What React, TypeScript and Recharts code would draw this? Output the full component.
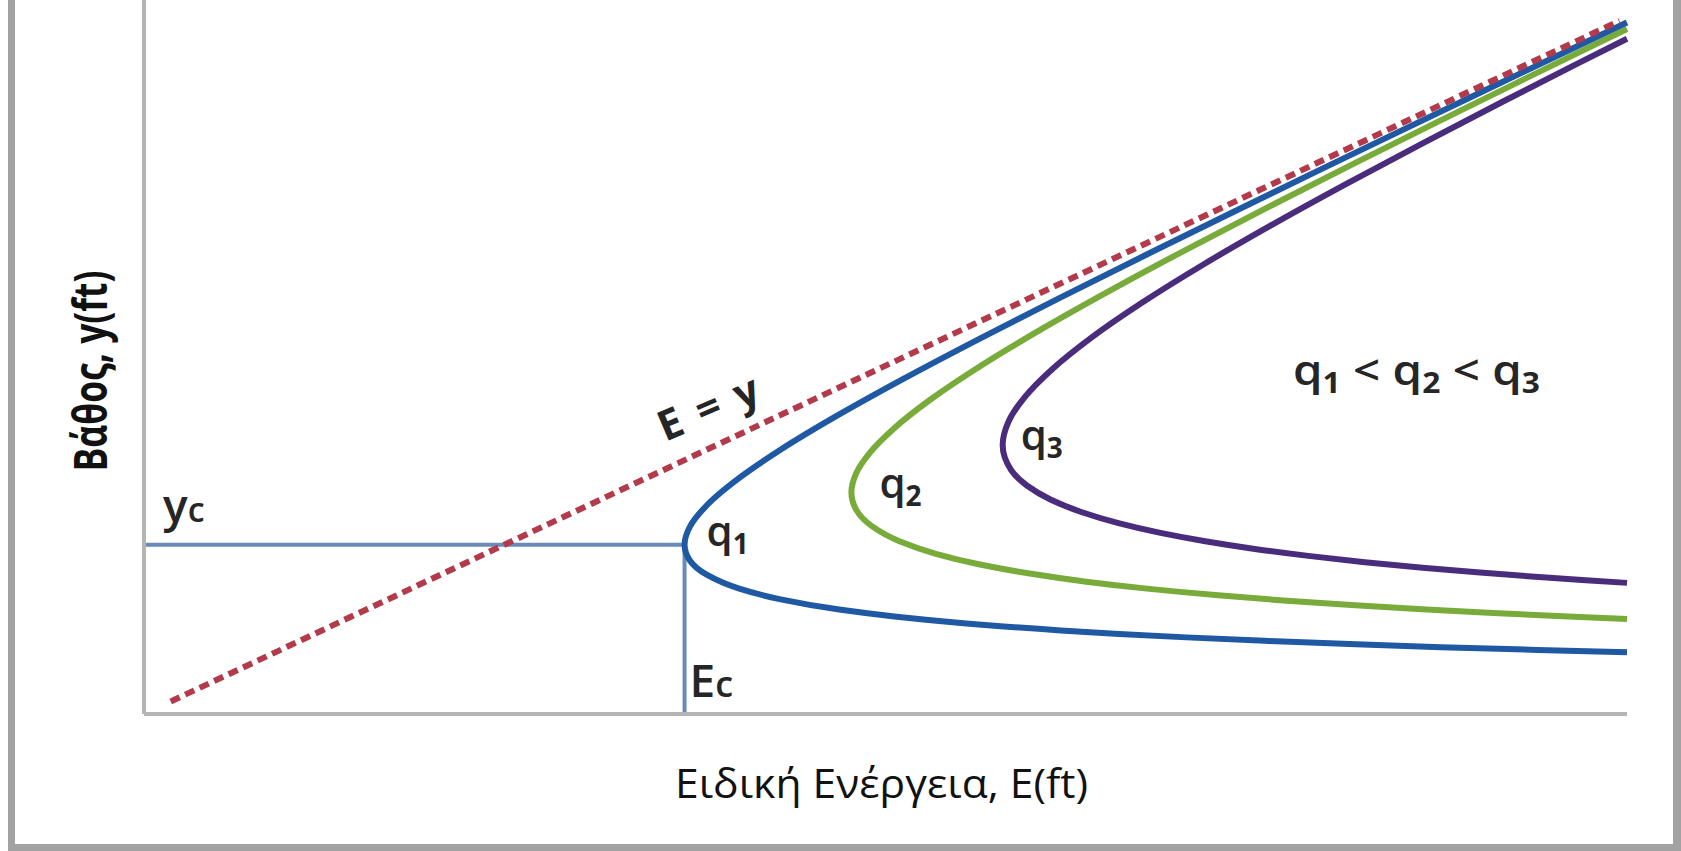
import React from 'react';
import { LineChart, Line, XAxis, YAxis, ReferenceDot } from 'recharts';

// Specific-energy diagram: depth y (ft) against specific energy E (ft)
const E_DOMAIN: [number, number] = [0, 10];
const Y_DOMAIN: [number, number] = [0, 10.25];

// Critical point of the q1 curve
const YC = 2.43;
const EC = 3.645;

// E = y reference line
const equalLine = [
  { E: 0.18, y: 0.18 },
  { E: 9.95, y: 9.95 },
];

// Critical-depth / critical-energy guide lines
const criticalGuide = [
  { E: 0, y: YC },
  { E: EC, y: YC },
  { E: EC, y: 0 },
];

// q1: lower (supercritical) branch to upper (subcritical) branch
const q1Curve = [
  { E: 10.0, y: 0.8872 }, { E: 9.396, y: 0.92 }, { E: 8.744, y: 0.96 },
  { E: 8.174, y: 1.0 }, { E: 7.557, y: 1.05 }, { E: 7.029, y: 1.1 },
  { E: 6.575, y: 1.15 }, { E: 6.182, y: 1.2 }, { E: 5.545, y: 1.3 },
  { E: 5.06, y: 1.4 }, { E: 4.688, y: 1.5 }, { E: 4.285, y: 1.65 },
  { E: 4.014, y: 1.8 }, { E: 3.794, y: 2.0 }, { E: 3.682, y: 2.2 },
  { E: 3.645, y: 2.43 }, { E: 3.684, y: 2.7 }, { E: 3.797, y: 3.0 },
  { E: 4.021, y: 3.4 }, { E: 4.297, y: 3.8 }, { E: 4.688, y: 4.3 },
  { E: 5.111, y: 4.8 }, { E: 5.646, y: 5.4 }, { E: 6.199, y: 6.0 },
  { E: 6.765, y: 6.6 }, { E: 7.338, y: 7.2 }, { E: 7.918, y: 7.8 },
  { E: 8.502, y: 8.4 }, { E: 9.089, y: 9.0 }, { E: 9.58, y: 9.5 },
  { E: 10.0, y: 9.927 },
];

const q2Curve = [
  { E: 10.0, y: 1.3647 }, { E: 9.604, y: 1.4 }, { E: 9.098, y: 1.45 },
  { E: 8.647, y: 1.5 }, { E: 8.167, y: 1.56 }, { E: 7.682, y: 1.63 },
  { E: 7.264, y: 1.7 }, { E: 6.763, y: 1.8 }, { E: 6.354, y: 1.9 },
  { E: 5.961, y: 2.02 }, { E: 5.629, y: 2.15 }, { E: 5.34, y: 2.3 },
  { E: 5.094, y: 2.48 }, { E: 4.906, y: 2.7 }, { E: 4.803, y: 2.93 },
  { E: 4.77, y: 3.18 }, { E: 4.801, y: 3.45 }, { E: 4.894, y: 3.75 },
  { E: 5.057, y: 4.1 }, { E: 5.294, y: 4.5 }, { E: 5.643, y: 5.0 },
  { E: 6.072, y: 5.55 }, { E: 6.532, y: 6.1 }, { E: 7.058, y: 6.7 },
  { E: 7.602, y: 7.3 }, { E: 8.158, y: 7.9 }, { E: 8.723, y: 8.5 },
  { E: 9.294, y: 9.1 }, { E: 9.774, y: 9.6 }, { E: 10.0, y: 9.834 },
];

const q3Curve = [
  { E: 10.0, y: 1.8823 }, { E: 9.722, y: 1.92 }, { E: 9.381, y: 1.97 },
  { E: 9.009, y: 2.03 }, { E: 8.622, y: 2.1 }, { E: 8.232, y: 2.18 },
  { E: 7.851, y: 2.27 }, { E: 7.49, y: 2.37 }, { E: 7.156, y: 2.48 },
  { E: 6.854, y: 2.6 }, { E: 6.571, y: 2.74 }, { E: 6.32, y: 2.9 },
  { E: 6.112, y: 3.08 }, { E: 5.953, y: 3.28 }, { E: 5.848, y: 3.5 },
  { E: 5.79, y: 3.86 }, { E: 5.83, y: 4.2 }, { E: 5.939, y: 4.55 },
  { E: 6.124, y: 4.95 }, { E: 6.386, y: 5.4 }, { E: 6.726, y: 5.9 },
  { E: 7.141, y: 6.45 }, { E: 7.587, y: 7.0 }, { E: 8.098, y: 7.6 },
  { E: 8.628, y: 8.2 }, { E: 9.171, y: 8.8 }, { E: 9.679, y: 9.35 },
  { E: 10.0, y: 9.694 },
];

// Text
const X_TITLE = 'Ειδική Ενέργεια, E(ft)';
const Y_TITLE = 'Βάθος, y(ft)';
const EQUAL_TEXT = 'E = y';
const CURVE_NAMES = ['1', '2', '3'];

// Label anchors (data coordinates)
const q1Anchor = { E: 3.645, y: 2.43 };
const q2Anchor = { E: 4.77, y: 3.18 };
const q3Anchor = { E: 5.79, y: 3.86 };
const orderAnchor = { E: 8.58, y: 4.72 };
const equalAnchor = { E: 3.8, y: 4.42 };

const FONT = "'Open Sans', 'Noto Sans', sans-serif";
const INK = '#262626';

const center = (props: any) => {
  const vb = props.viewBox || {};
  return { cx: vb.x + (vb.width || 0) / 2, cy: vb.y + (vb.height || 0) / 2 };
};

const qText = (sub: string, dx: number, dy: number) => (props: any) => {
  const { cx, cy } = center(props);
  return (
    <text x={cx + dx} y={cy + dy} fontFamily={FONT} fontWeight={600} fill={INK}>
      <tspan fontSize={42}>q</tspan>
      <tspan fontSize={28} fontWeight={700} dy={8}>{sub}</tspan>
    </text>
  );
};

const orderText = (props: any) => {
  const { cx, cy } = center(props);
  return (
    <text
      x={cx}
      y={cy}
      textAnchor="middle"
      fontFamily={FONT}
      fontWeight={600}
      fill={INK}
      textLength={247}
      lengthAdjust="spacingAndGlyphs"
    >
      <tspan fontSize={42}>q</tspan>
      <tspan fontSize={28} fontWeight={700} dy={8}>{CURVE_NAMES[0]}</tspan>
      <tspan fontSize={42} dy={-8}>{' < q'}</tspan>
      <tspan fontSize={28} fontWeight={700} dy={8}>{CURVE_NAMES[1]}</tspan>
      <tspan fontSize={42} dy={-8}>{' < q'}</tspan>
      <tspan fontSize={28} fontWeight={700} dy={8}>{CURVE_NAMES[2]}</tspan>
    </text>
  );
};

const equalText = (props: any) => {
  const { cx, cy } = center(props);
  return (
    <text
      x={cx}
      y={cy}
      textAnchor="middle"
      dominantBaseline="central"
      fontFamily={FONT}
      fontWeight={700}
      fontSize={42}
      fill={INK}
      textLength={106}
      lengthAdjust="spacing"
      transform={`rotate(-23 ${cx} ${cy})`}
    >
      {EQUAL_TEXT}
    </text>
  );
};

const ycText = (props: any) => {
  const { cx, cy } = center(props);
  return (
    <text x={cx + 19} y={cy - 23} fontFamily={FONT} fontWeight={600} fill={INK}>
      <tspan fontSize={46}>y</tspan>
      <tspan fontSize={34}>c</tspan>
    </text>
  );
};

const ecText = (props: any) => {
  const { cx, cy } = center(props);
  return (
    <text x={cx + 5} y={cy - 17} fontFamily={FONT} fontWeight={600} fill={INK}>
      <tspan fontSize={46}>E</tspan>
      <tspan fontSize={36}>c</tspan>
    </text>
  );
};

const xTitle = (props: any) => {
  const vb = props.viewBox;
  return (
    <text
      x={vb.x + vb.width / 2 - 4}
      y={vb.y + 84}
      textAnchor="middle"
      fontFamily={FONT}
      fontSize={40}
      fill="#111"
      textLength={413}
      lengthAdjust="spacingAndGlyphs"
    >
      {X_TITLE}
    </text>
  );
};

const yTitle = (props: any) => {
  const vb = props.viewBox;
  const x = vb.x - 54;
  const y = vb.y + vb.height / 2 + 14;
  return (
    <text
      x={x}
      y={y}
      textAnchor="middle"
      dominantBaseline="central"
      fontFamily={FONT}
      fontWeight={700}
      fontSize={47}
      fill="#111"
      textLength={201}
      lengthAdjust="spacingAndGlyphs"
      transform={`rotate(-90 ${x} ${y})`}
    >
      {Y_TITLE}
    </text>
  );
};

const hiddenDot = { r: 0, fill: 'none', stroke: 'none' };

export default function App() {
  return (
    <div style={{ position: 'absolute', left: 0, top: 0, width: 1681, height: 851, background: '#fff' }}>
      <div
        style={{
          position: 'absolute',
          left: 8,
          top: 0,
          width: 1673,
          height: 851,
          boxSizing: 'border-box',
          borderLeft: '7px solid #a2a2a2',
          borderRight: '8px solid #a2a2a2',
          borderBottom: '7px solid #a2a2a2',
        }}
      />
      <div style={{ position: 'absolute', left: 0, top: 0 }}>
        <LineChart
          width={1681}
          height={851}
          margin={{ top: 0, right: 54, bottom: 136, left: 143 }}
        >
          <XAxis
            type="number"
            dataKey="E"
            domain={E_DOMAIN}
            height={1}
            tick={false}
            tickLine={false}
            axisLine={{ stroke: '#b4b4b4', strokeWidth: 4 }}
            label={{ content: xTitle }}
          />
          <YAxis
            type="number"
            dataKey="y"
            domain={Y_DOMAIN}
            width={1}
            tick={false}
            tickLine={false}
            axisLine={{ stroke: '#b4b4b4', strokeWidth: 4 }}
            label={{ content: yTitle }}
          />
          <Line
            data={criticalGuide}
            dataKey="y"
            type="linear"
            stroke="#6a8bb8"
            strokeWidth={4}
            dot={false}
            activeDot={false}
            isAnimationActive={false}
          />
          <Line
            data={q3Curve}
            dataKey="y"
            type="monotoneY"
            stroke="#4a2c7c"
            strokeWidth={6}
            dot={false}
            activeDot={false}
            isAnimationActive={false}
          />
          <Line
            data={q2Curve}
            dataKey="y"
            type="monotoneY"
            stroke="#78ab3a"
            strokeWidth={6}
            dot={false}
            activeDot={false}
            isAnimationActive={false}
          />
          <Line
            data={q1Curve}
            dataKey="y"
            type="monotoneY"
            stroke="#1f58a3"
            strokeWidth={6}
            dot={false}
            activeDot={false}
            isAnimationActive={false}
          />
          <Line
            data={equalLine}
            dataKey="y"
            type="linear"
            stroke="#b23a4a"
            strokeWidth={6}
            strokeDasharray="10 6"
            dot={false}
            activeDot={false}
            isAnimationActive={false}
          />
          <ReferenceDot x={0} y={YC} {...hiddenDot} label={{ content: ycText }} />
          <ReferenceDot x={EC} y={0} {...hiddenDot} label={{ content: ecText }} />
          <ReferenceDot x={q1Anchor.E} y={q1Anchor.y} {...hiddenDot} label={{ content: qText(CURVE_NAMES[0], 22, 1) }} />
          <ReferenceDot x={q2Anchor.E} y={q2Anchor.y} {...hiddenDot} label={{ content: qText(CURVE_NAMES[1], 28, 6) }} />
          <ReferenceDot x={q3Anchor.E} y={q3Anchor.y} {...hiddenDot} label={{ content: qText(CURVE_NAMES[2], 18, 5) }} />
          <ReferenceDot x={orderAnchor.E} y={orderAnchor.y} {...hiddenDot} label={{ content: orderText }} />
          <ReferenceDot x={equalAnchor.E} y={equalAnchor.y} {...hiddenDot} label={{ content: equalText }} />
        </LineChart>
      </div>
    </div>
  );
}
